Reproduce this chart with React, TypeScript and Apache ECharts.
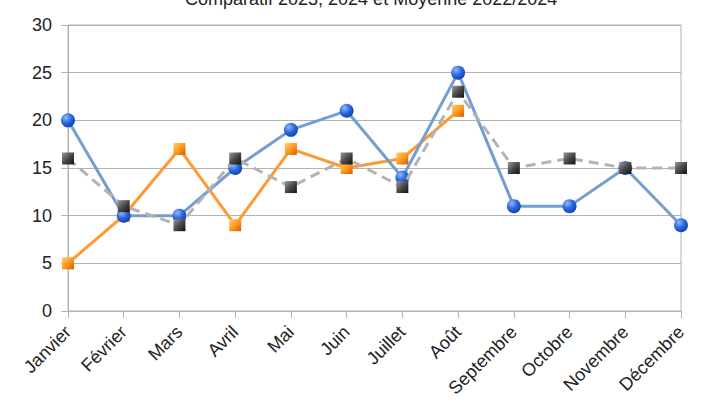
import React, { useEffect, useRef } from "react";
import * as echarts from "echarts";

const months = ["Janvier", "Février", "Mars", "Avril", "Mai", "Juin", "Juillet", "Août", "Septembre", "Octobre", "Novembre", "Décembre"];
const serie2024 = [5, 10, 17, 9, 17, 15, 16, 21, null, null, null, null];
const serie2023 = [20, 10, 10, 15, 19, 21, 14, 25, 11, 11, 15, 9];
const moyenne = [16, 11, 9, 16, 13, 16, 13, 23, 15, 16, 15, 15];
const titleText = "Comparatif 2023, 2024 et Moyenne 2022/2024";

const radial = (light: string, mid: string, dark: string) =>
  new echarts.graphic.RadialGradient(0.35, 0.3, 0.8, [
    { offset: 0, color: light },
    { offset: 0.5, color: mid },
    { offset: 1, color: dark },
  ]);

const linearSq = (light: string, mid: string, dark: string) =>
  new echarts.graphic.LinearGradient(0, 0, 1, 1, [
    { offset: 0, color: light },
    { offset: 0.5, color: mid },
    { offset: 1, color: dark },
  ]);

export default function App() {
  const ref = useRef<HTMLDivElement>(null);
  useEffect(() => {
    document.body.style.margin = "0";
    const chart = echarts.init(ref.current!, null, { renderer: "svg" });
    chart.setOption({
      animation: false,
      title: {
        text: titleText,
        left: 180,
        top: -15,
        textStyle: { fontSize: 18, fontWeight: "normal", color: "#222", fontFamily: "Liberation Sans" },
      },
      grid: {
        left: 68,
        right: 23,
        top: 25,
        bottom: 94,
        show: true,
        borderColor: "#b3b3b3",
        borderWidth: 1,
      },
      xAxis: {
        type: "category",
        data: months,
        boundaryGap: false,
        axisLine: { lineStyle: { color: "#b3b3b3", width: 1 } },
        axisTick: { show: true, alignWithLabel: true, length: 7, lineStyle: { color: "#b3b3b3" } },
        axisLabel: {
          rotate: 45,
          interval: 0,
          fontSize: 18,
          color: "#222",
          fontFamily: "Liberation Sans",
          margin: 18,
        },
        splitLine: { show: false },
      },
      yAxis: {
        type: "value",
        min: 0,
        max: 30,
        interval: 5,
        axisLine: { show: true, lineStyle: { color: "#b3b3b3", width: 1 } },
        axisTick: { show: true, length: 7, lineStyle: { color: "#b3b3b3" } },
        axisLabel: { fontSize: 18, color: "#222", fontFamily: "Liberation Sans", margin: 16 },
        splitLine: { show: true, lineStyle: { color: "#b3b3b3", width: 1 } },
      },
      series: [
        {
          name: "2024",
          type: "line",
          data: serie2024,
          lineStyle: { color: "#ff9933", width: 3 },
          symbol: "rect",
          symbolSize: 12,
          itemStyle: { color: linearSq("#ffd070", "#ff9a20", "#d25a00"), borderWidth: 0 },
          z: 2,
        },
        {
          name: "2023",
          type: "line",
          data: serie2023,
          lineStyle: { color: "#729fcf", width: 3 },
          symbol: "circle",
          symbolSize: 14,
          itemStyle: { color: radial("#8fb8ff", "#2a66e0", "#0f3c9a"), borderWidth: 0 },
          z: 3,
        },
        {
          name: "Moyenne 2022/2024",
          type: "line",
          data: moyenne,
          lineStyle: { color: "#b3b3b3", width: 3, type: [10, 6] },
          symbol: "rect",
          symbolSize: 12,
          itemStyle: { color: linearSq("#9a9a9a", "#4a4a4a", "#111111"), borderWidth: 0 },
          z: 4,
        },
      ],
    });
    return () => chart.dispose();
  }, []);
  return <div ref={ref} style={{ width: 704, height: 405 }} />;
}
